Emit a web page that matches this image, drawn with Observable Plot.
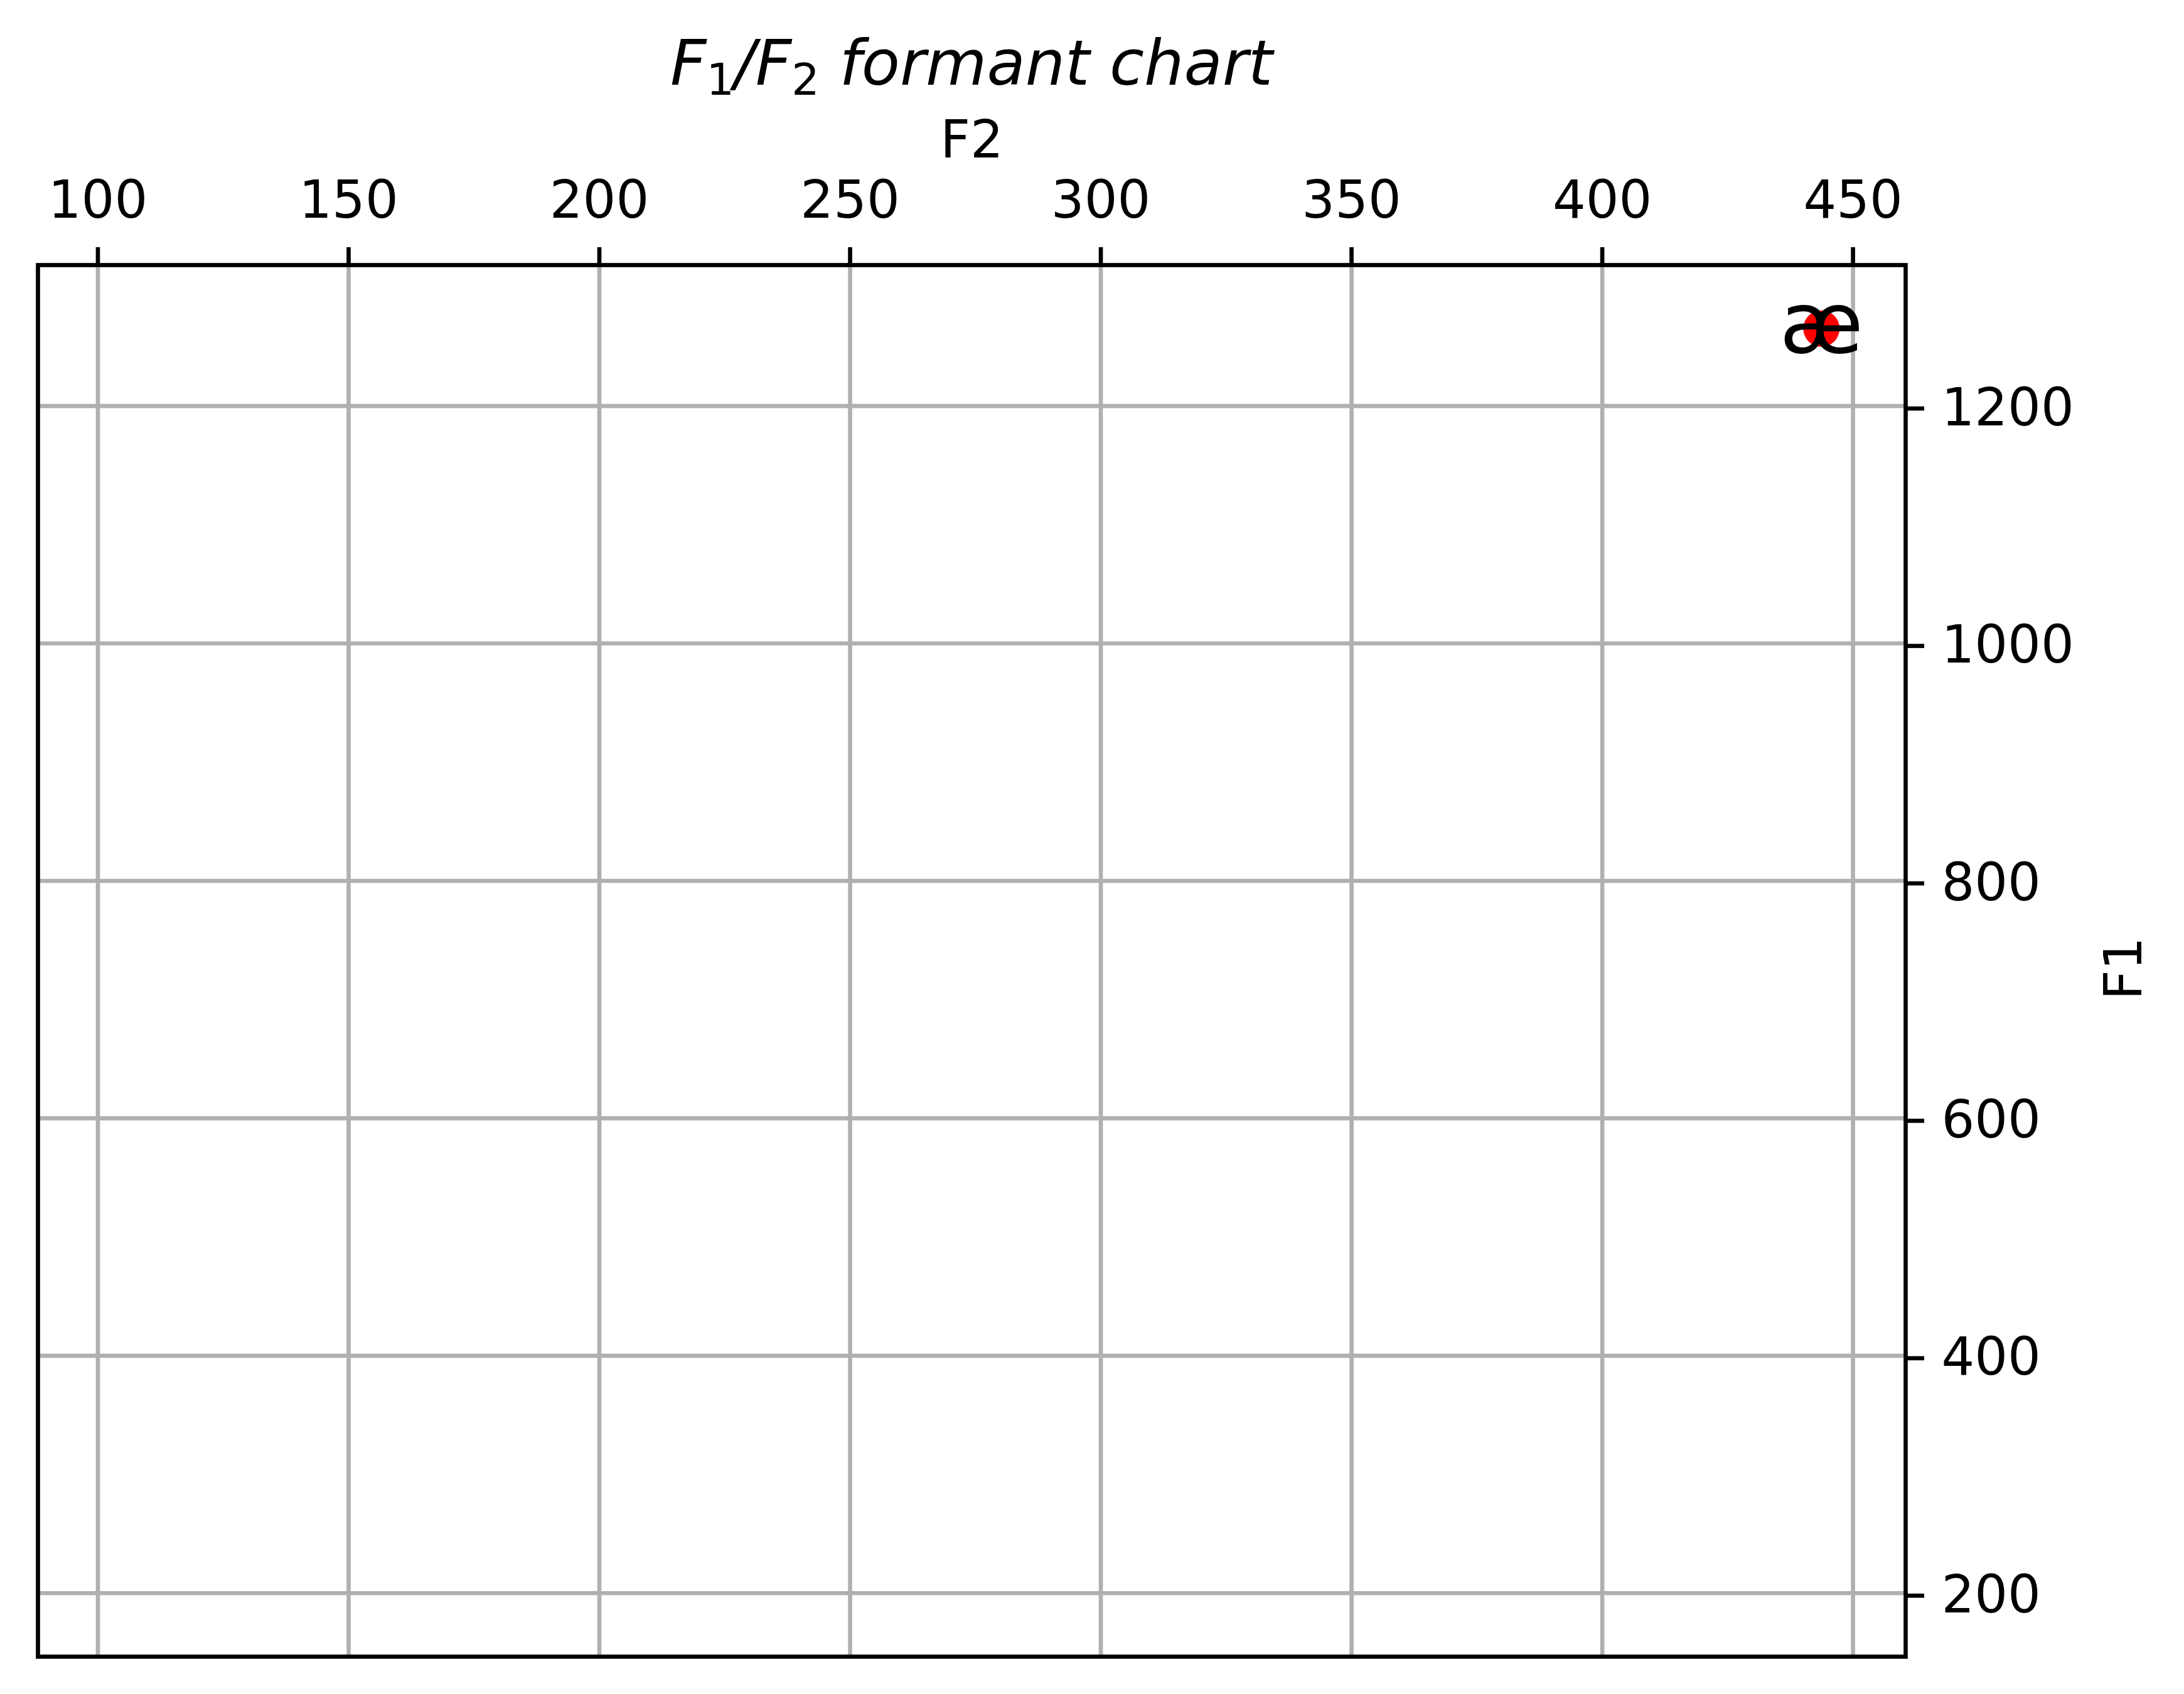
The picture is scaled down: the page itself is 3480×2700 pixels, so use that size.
<!DOCTYPE html>
<html>
<head>
<meta charset="utf-8">
<script src="https://cdn.jsdelivr.net/npm/d3@7"></script>
<script src="https://cdn.jsdelivr.net/npm/@observablehq/plot@0.6"></script>
<style>
  html, body { margin: 0; padding: 0; background: #fff; }
  #chart { width: 3480px; height: 2700px; }
</style>
</head>
<body>
<div id="chart"></div>
<script>
// ---- data ----
const vowels = ["æ"];
const f2Values = [443.7];
const f1Values = [1265.2];
const xDomain = [88.05, 460.5];
const yDomain = [146.5, 1318.7];
const xTicks = [100, 150, 200, 250, 300, 350, 400, 450];
const yTicks = [200, 400, 600, 800, 1000, 1200];
const xLabel = "F2";
const yLabel = "F1";

const data = vowels.map((v, i) => ({vowel: v, F2: f2Values[i], F1: f1Values[i]}));

const LW = 6.67;
const grid = "#b0b0b0";

const chart = Plot.plot({
  width: 3480,
  height: 2700,
  marginLeft: 60,
  marginRight: 444,
  marginTop: 422,
  marginBottom: 60,
  style: {fontFamily: "DejaVu Sans", fontSize: "83px", background: "#fff", color: "#000"},
  x: {domain: xDomain},
  y: {domain: yDomain},
  marks: [
    Plot.gridX(xTicks, {stroke: grid, strokeOpacity: 1, strokeWidth: LW}),
    Plot.gridY(yTicks, {stroke: grid, strokeOpacity: 1, strokeWidth: LW}),
    Plot.axisX(xTicks, {anchor: "top", tickSize: 29, tickPadding: 47, strokeWidth: LW, fontSize: 83, label: null, fill: "#000", tickFormat: d => String(d)}),
    Plot.axisY(yTicks, {anchor: "right", tickSize: 29, tickPadding: 28, strokeWidth: LW, fontSize: 83, label: null, fill: "#000", dy: 4, tickFormat: d => String(d)}),
    Plot.frame({stroke: "#000", strokeWidth: LW}),
    Plot.dot(data, {x: "F2", y: "F1", r: 29, fill: "red", stroke: null}),
    Plot.text(data, {x: "F2", y: "F1", text: "vowel", fontSize: 136, fill: "#000", dy: -5}),
    Plot.text([xLabel], {frameAnchor: "top", lineAnchor: "bottom", dy: -172, fontSize: 83, fill: "#000"}),
    Plot.text([yLabel], {frameAnchor: "right", lineAnchor: "bottom", rotate: -90, dx: 375, dy: -38, fontSize: 83, fill: "#000"})
  ]
});

// title with subscripts
const svg = d3.select(chart);
const t = svg.append("text")
  .attr("x", (60 + 3036) / 2)
  .attr("y", 135)
  .attr("text-anchor", "middle")
  .attr("font-family", "DejaVu Sans")
  .attr("font-size", 100)
  .attr("fill", "#000");
t.append("tspan").attr("font-style", "italic").text("F");
t.append("tspan").attr("dy", 16).attr("font-size", 70).text("1");
t.append("tspan").attr("dy", -16).attr("font-style", "italic").text("/F");
t.append("tspan").attr("dy", 16).attr("font-size", 70).text("2");
t.append("tspan").attr("dy", -16).attr("font-style", "italic").text(" formant chart");

document.getElementById("chart").appendChild(chart);
</script>
</body>
</html>
